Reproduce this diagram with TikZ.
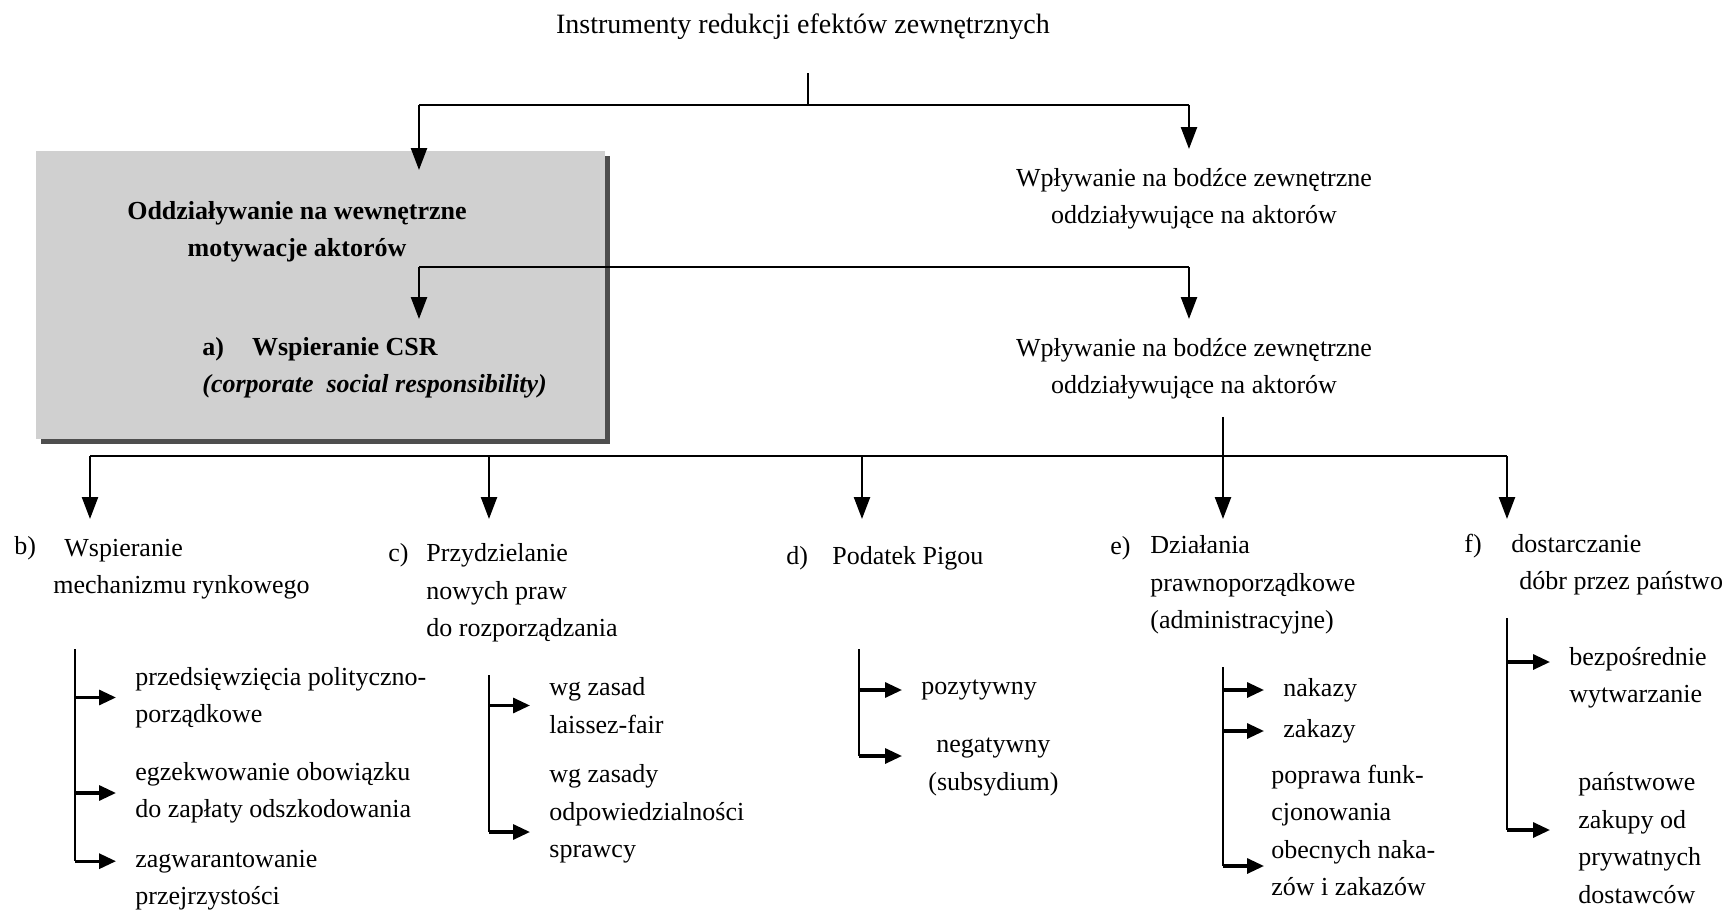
\documentclass[tikz,border=0pt]{standalone}
\usepackage{fontspec}
\setmainfont{Liberation Serif}
\usetikzlibrary{arrows.meta}
\newcommand{\bodyfont}{\fontsize{13}{18.75}\selectfont}
\definecolor{boxgray}{RGB}{208,208,208}
\definecolor{shadowgray}{RGB}{78,78,78}
\tikzset{
  txt/.style={align=center,inner sep=0pt},
  leaf/.style={align=left,anchor=west,inner sep=0pt},
  itemlbl/.style={anchor=west,inner sep=0pt},
  conn/.style={line width=1.3pt},
  trunk/.style={line width=0.8pt},
  arrdown/.style={line width=1.2pt,-{Triangle[length=11pt,width=8pt]}},
  arrside/.style={line width=1.6pt,shorten >=9.5pt,-{Triangle[length=8.5pt,width=7.5pt]}},
}

\begin{document}
\begin{tikzpicture}[x=0.5pt,y=-0.5pt,font=\bodyfont]
\useasboundingbox (0,0) rectangle (1730,915);

% top level
\node[txt,font=\fontsize{14}{18}\selectfont] (root) at (803,27) {Instrumenty redukcji efektów zewnętrznych};
\coordinate (s1) at (808,105);
\coordinate (l1) at (419,105);
\coordinate (r1) at (1189,105);
\coordinate (l2) at (419,267);
\coordinate (r2) at (1189,267);

% grey box with shadow
\fill[shadowgray] (41,156) rectangle (610,444);
\fill[boxgray] (36,151) rectangle (605,439);

\node[txt,font=\bodyfont\bfseries] (motiv) at (297,232) {Oddziaływanie na wewnętrzne\\motywacje aktorów};
\node[leaf,font=\bodyfont\bfseries] (csr) at (202,368) {a)\hspace{14pt}Wspieranie CSR\\\textit{(corporate\ \ social responsibility)}};
\node[txt] (ext1) at (1194,199) {Wpływanie na bodźce zewnętrzne\\oddziaływujące na aktorów};
\node[txt] (ext2) at (1194,369) {Wpływanie na bodźce zewnętrzne\\oddziaływujące na aktorów};

\draw[trunk,shorten <=16.5pt] (root.south -| s1) -- (s1);
\draw[conn] (l1) -- (r1);
\draw[arrdown,shorten >=15.5pt] (l1) -- (l1 |- motiv.north);
\draw[arrdown,shorten >=9.5pt] (r1) -- (r1 |- ext1.north);
\draw[conn] (l2) -- (r2);
\draw[arrdown,shorten >=9pt] (l2) -- (l2 |- csr.north);
\draw[arrdown,shorten >=9.5pt] (r2) -- (r2 |- ext2.north);

% second level
\foreach \n/\x in {b/90,c/489,d/862,e/1223,f/1507}{
  \coordinate (t\n) at (\x,456);
  \coordinate (h\n) at (\x,519);
  \draw[arrdown] (t\n) -- (h\n);
}
\draw[conn] (tb) -- (tf);
\draw[conn,shorten <=8.5pt] (ext2.south -| te) -- (te);

\node[itemlbl] (lb) at (14,548) {b)};
\node[leaf] (cb) at (53,569) {\hspace*{5.5pt}Wspieranie\\mechanizmu rynkowego};
\node[itemlbl] (lc) at (388,555) {c)};
\node[leaf] (cc) at (426,593) {Przydzielanie\\nowych praw\\do rozporządzania};
\node[itemlbl] (ld) at (786,558) {d)};
\node[leaf] (cd) at (832,558) {Podatek Pigou};
\node[itemlbl] (le) at (1110,548) {e)};
\node[leaf] (ce) at (1150,585) {Działania\\prawnoporządkowe\\(administracyjne)};
\node[itemlbl] (lf) at (1464,546) {f)};
\node[leaf] (cf) at (1511,564.5) {dostarczanie\\\hspace*{4pt}dóbr przez państwo};

% b
\coordinate (bst) at (75,649);
\node[leaf] (b1) at (135,697.5) {przedsięwzięcia polityczno-\\porządkowe};
\node[leaf] (b2) at (135,793) {egzekwowanie obowiązku\\do zapłaty odszkodowania};
\node[leaf] (b3) at (135,880) {zagwarantowanie\\przejrzystości};
\coordinate (b3in) at ([yshift=9.4pt]b3.west);
\draw[trunk] (bst) -- (bst |- b3in);
\draw[arrside] (bst |- b1.west) -- (b1.west);
\draw[arrside] (bst |- b2.west) -- (b2.west);
\draw[arrside] (bst |- b3in) -- (b3in);

% c
\coordinate (cst) at (489,675);
\node[leaf] (c1) at (549,705.5) {wg zasad\\laissez-fair};
\node[leaf] (c2) at (549,814) {wg zasady\\odpowiedzialności\\sprawcy};
\coordinate (c2in) at ([yshift=-9pt]c2.west);
\draw[trunk] (cst) -- (cst |- c2in);
\draw[arrside] (cst |- c1.west) -- (c1.west);
\draw[arrside] (cst |- c2in) -- (c2in);

% d
\coordinate (dst) at (859,649);
\node[leaf] (d1) at (921,690) {pozytywny};
\node[leaf,align=center] (d2) at (928,767) {negatywny\\(subsydium)};
\coordinate (d2in) at ([yshift=5.5pt]d2.west);
\draw[trunk] (dst) -- (dst |- d2in);
\draw[arrside] (dst |- d1.west) -- (d1.west);
\draw[arrside] (dst |- d2in) -- (d2in -| d1.west);

% e
\coordinate (est) at (1223,667);
\node[leaf] (e1) at (1283,690) {nakazy};
\node[leaf] (e2) at (1283,731) {zakazy};
\node[leaf] (e3) at (1271,830.5) {poprawa funk-\\cjonowania\\obecnych naka-\\zów i zakazów};
\coordinate (e3in) at ([yshift=-17.75pt]e3.west);
\draw[trunk] (est) -- (est |- e3in);
\draw[arrside] (est |- e1.west) -- (e1.west);
\draw[arrside] (est |- e2.west) -- (e2.west);
\draw[arrside] (est |- e3in) -- (e3in -| e1.west);

% f
\coordinate (fst) at (1507,618);
\node[leaf] (f1) at (1569,678) {bezpośrednie\\wytwarzanie};
\node[leaf] (f2) at (1578,838) {państwowe\\zakupy od\\prywatnych\\dostawców};
\coordinate (f1in) at ([yshift=8pt]f1.west);
\coordinate (f2in) at ([yshift=4pt]f2.west);
\draw[trunk] (fst) -- (fst |- f2in);
\draw[arrside] (fst |- f1in) -- (f1in);
\draw[arrside] (fst |- f2in) -- (f2in -| f1.west);
\end{tikzpicture}
\end{document}
